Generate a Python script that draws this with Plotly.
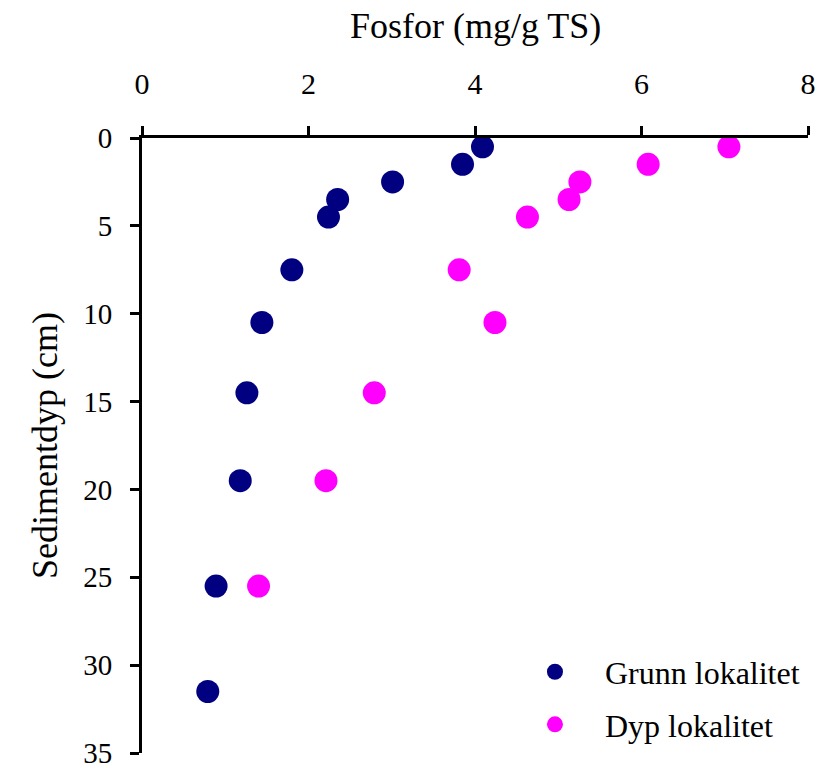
import plotly.graph_objects as go

depth = [0.5, 1.5, 2.5, 3.5, 4.5, 7.5, 10.5, 14.5, 19.5, 25.5, 31.5]
grunn = [4.09, 3.85, 3.01, 2.35, 2.24, 1.80, 1.44, 1.26, 1.18, 0.89, 0.79]
dyp_depth = [0.5, 1.5, 2.5, 3.5, 4.5, 7.5, 10.5, 14.5, 19.5, 25.5]
dyp = [7.05, 6.08, 5.26, 5.13, 4.63, 3.81, 4.24, 2.79, 2.21, 1.40]

x_ticks = [0, 2, 4, 6, 8]
y_ticks = [0, 5, 10, 15, 20, 25, 30, 35]

FONT = "Liberation Serif, Times New Roman, serif"

T, B, L, R = 138, 18, 142, 10
PH = 771 - T - B

fig = go.Figure()
fig.add_trace(go.Scatter(x=grunn, y=depth, mode="markers", name="Grunn lokalitet",
                         legendgroup="a",
                         marker=dict(color="#000080", size=23)))
fig.add_trace(go.Scatter(x=dyp, y=dyp_depth, mode="markers", name="Dyp lokalitet",
                         legendgroup="b",
                         marker=dict(color="#FF00FF", size=23)))

fig.update_layout(
    template="none",
    width=818, height=771,
    margin=dict(l=L, r=R, t=T, b=B, autoexpand=False),
    paper_bgcolor="white", plot_bgcolor="white",
    font=dict(family=FONT, color="black", size=30),
    hovermode="closest",
    legend=dict(x=0.545, y=0.183 - 4 / PH, xanchor="left", yanchor="top",
                font=dict(size=32, family=FONT), tracegroupgap=8,
                itemwidth=90, bgcolor="rgba(0,0,0,0)", borderwidth=0),
    annotations=[dict(text="Fosfor (mg/g TS)", xref="paper", yref="paper",
                      x=0.5, y=1 + (T - 26) / PH, xanchor="center", yanchor="middle",
                      showarrow=False, font=dict(size=36, family=FONT))],
)
fig.update_xaxes(range=[0, 8], side="top", tickvals=x_ticks, showgrid=False, zeroline=False,
                 automargin=False,
                 showline=True, linecolor="black", linewidth=3,
                 ticks="outside", ticklen=9, tickwidth=3, tickcolor="black",
                 tickfont=dict(size=30, family=FONT), ticklabelstandoff=20,
                 ticklabeloverflow="allow")
fig.update_yaxes(range=[35, 0], tickvals=y_ticks, showgrid=False, zeroline=False,
                 automargin=False,
                 showline=True, linecolor="black", linewidth=3,
                 ticks="outside", ticklen=9, tickwidth=3, tickcolor="black",
                 tickfont=dict(size=29, family=FONT), ticklabelstandoff=12,
                 ticklabeloverflow="allow",
                 title=dict(text="Sedimentdyp (cm)", font=dict(size=36, family=FONT), standoff=15))

fig.write_html("out.html", config={"displayModeBar": False},
               post_script="document.body.style.margin='0';document.body.style.overflow='hidden';")
